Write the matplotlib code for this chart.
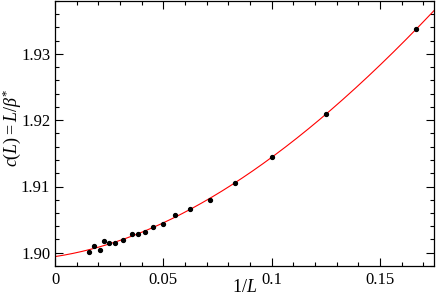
import numpy as np
import matplotlib
matplotlib.use("Agg")
import matplotlib.pyplot as plt
from matplotlib.ticker import MultipleLocator

plt.rcParams['font.family'] = ['Liberation Serif', 'DejaVu Serif']
plt.rcParams['mathtext.fontset'] = 'custom'
plt.rcParams['mathtext.rm'] = 'Liberation Serif'
plt.rcParams['mathtext.it'] = 'Liberation Serif:italic'

L_values = [64, 56, 48, 44, 40, 36, 32, 28, 26, 24, 22, 20, 18, 16, 14, 12, 10, 8, 6]
c_values = [1.9001, 1.9010, 1.9004, 1.9017, 1.9014, 1.9014, 1.9020, 1.9029, 1.9028,
            1.9031, 1.9039, 1.9043, 1.9057, 1.9066, 1.9079, 1.9106, 1.9145, 1.9209, 1.9337]
x_ticks = [0, 0.05, 0.1, 0.15]
x_tick_labels = ["0", "0.05", "0.1", "0.15"]
y_ticks = [1.90, 1.91, 1.92, 1.93]
y_tick_labels = ["1.90", "1.91", "1.92", "1.93"]

x = 1.0 / np.array(L_values, dtype=float)
y = np.array(c_values)
coef = np.polyfit(x, y, 3)
xf = np.linspace(0, 0.175, 300)
yf = np.polyval(coef, xf)

fig = plt.figure(figsize=(4.36, 2.97), dpi=100)
ax = fig.add_axes([55/436, 31/297, 379/436, 265/297])
ax.plot(xf, yf, color='red', lw=0.8)
ax.plot(x, y, 'o', color='black', ms=2.8)
ax.set_xlim(0, 0.175)
ax.set_ylim(1.898, 1.938)
ax.set_xticks(x_ticks)
ax.set_xticklabels(x_tick_labels)
ax.set_yticks(y_ticks)
ax.set_yticklabels(y_tick_labels)
ax.xaxis.set_minor_locator(MultipleLocator(0.01))
ax.yaxis.set_minor_locator(MultipleLocator(0.002))
ax.tick_params(which='both', direction='in', top=True, right=True, labelsize=12, width=0.8)
ax.tick_params(axis='x', which='both', pad=4)
ax.tick_params(which='major', length=6)
ax.tick_params(which='minor', length=3)
for s in ax.spines.values():
    s.set_linewidth(0.9)
ax.set_xlabel(r'$1/L$', fontsize=13)
ax.set_ylabel(r'$c(L){=}L/\beta^{*}$', fontsize=13)
ax.xaxis.set_label_coords(0.5, -0.05)
ax.yaxis.set_label_coords(-0.085, 0.52)
fig.savefig("out.png", dpi=100)
